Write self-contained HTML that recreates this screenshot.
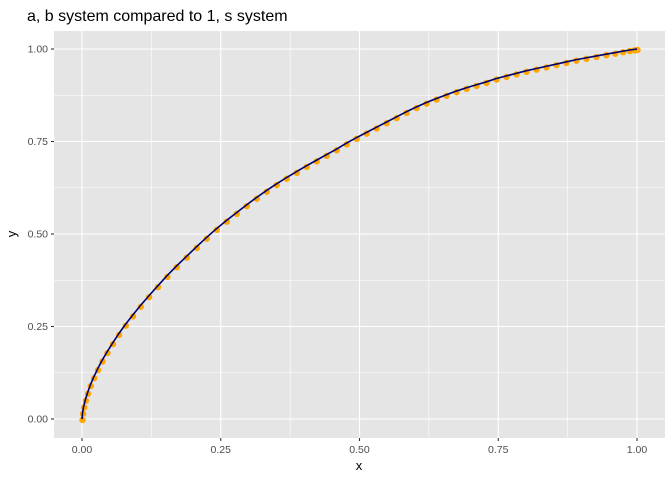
<!DOCTYPE html>
<html><head><meta charset="utf-8"><style>
html,body{margin:0;padding:0;background:#fff}
svg{display:block;font-family:"Liberation Sans",Arial,sans-serif}
</style></head><body>
<svg id="chart" width="672" height="480" viewBox="0 0 672 480">
<text x="27" y="21" font-size="16" fill="#000">a, b system compared to 1, s system</text>
<rect x="54" y="31" width="611" height="407" fill="#e5e5e5"/>
<g id="grid"></g><g id="axes"></g><g id="series"></g>
<text x="359" y="470" font-size="13" text-anchor="middle" fill="#000">x</text>
<text transform="translate(16,234) rotate(-90)" font-size="13" text-anchor="middle" fill="#000">y</text>
</svg>
<script>
const xTicks=[0,0.25,0.5,0.75,1];
const yTicks=[0,0.25,0.5,0.75,1];
const tickLabels=["0.00","0.25","0.50","0.75","1.00"];
const xVals=[0,0.001,0.003,0.006,0.01,0.015,0.021,0.028,0.036,0.045,0.055,0.066,0.078,0.091,0.105,0.12,0.136,0.153,0.17,0.188,0.206,0.224,0.242,0.26,0.278,0.296,0.314,0.332,0.35,0.368,0.386,0.404,0.422,0.44,0.458,0.476,0.494,0.512,0.53,0.548,0.566,0.584,0.602,0.62,0.638,0.656,0.674,0.692,0.71,0.728,0.746,0.764,0.782,0.8,0.818,0.836,0.854,0.872,0.89,0.908,0.926,0.944,0.96,0.974,0.986,0.995,1];
const yVals=[0,0.017,0.034,0.052,0.071,0.092,0.113,0.135,0.158,0.181,0.205,0.23,0.255,0.28,0.306,0.332,0.359,0.387,0.413,0.439,0.465,0.49,0.514,0.536,0.557,0.578,0.598,0.617,0.635,0.652,0.668,0.684,0.699,0.714,0.729,0.745,0.76,0.774,0.788,0.802,0.816,0.83,0.843,0.855,0.866,0.876,0.886,0.895,0.903,0.911,0.92,0.927,0.934,0.941,0.947,0.953,0.959,0.965,0.971,0.976,0.981,0.986,0.99,0.994,0.997,0.999,1];
const NS="http://www.w3.org/2000/svg";
const sx=v=>82+v*555, sy=v=>419-v*370;
function mk(tag,attrs,parent){const e=document.createElementNS(NS,tag);for(const k in attrs)e.setAttribute(k,attrs[k]);parent.appendChild(e);return e;}
const grid=document.getElementById('grid'),axes=document.getElementById('axes'),series=document.getElementById('series');
for(let i=0;i<xTicks.length-1;i++){
 const mx=(xTicks[i]+xTicks[i+1])/2,my=(yTicks[i]+yTicks[i+1])/2;
 const a=mk('line',{x1:sx(mx),x2:sx(mx),y1:31,y2:438,stroke:'#fff','stroke-width':0.55},grid);
 
 
 const b=mk('line',{x1:54,x2:665,y1:sy(my),y2:sy(my),stroke:'#fff','stroke-width':0.55},grid);
 
 
}
xTicks.forEach((v,i)=>{
 const g=mk('line',{x1:sx(v),x2:sx(v),y1:31,y2:438,stroke:'#fff','stroke-width':1.1},grid);
 
 
 const t=mk('line',{x1:sx(v),x2:sx(v),y1:438,y2:441,stroke:'#333','stroke-width':1.1},axes);
 
 
 const l=mk('text',{x:sx(v),y:453,'font-size':10.5,fill:'#4d4d4d','text-anchor':'middle'},axes);
 l.textContent=tickLabels[i];
 
 
});
yTicks.forEach((v,i)=>{
 const g=mk('line',{x1:54,x2:665,y1:sy(v),y2:sy(v),stroke:'#fff','stroke-width':1.1},grid);
 
 
 const t=mk('line',{x1:51,x2:54,y1:sy(v),y2:sy(v),stroke:'#333','stroke-width':1.1},axes);
 
 
 const l=mk('text',{x:48,y:sy(v)+3.5,'font-size':10.5,fill:'#4d4d4d','text-anchor':'end'},axes);
 l.textContent=tickLabels[i];
 
 
});
xVals.forEach((v,i)=>{
 const c=mk('circle',{cx:sx(v)+0.5,cy:sy(yVals[i])+1,r:3.2,fill:'#FFA500'},series);
 
 
});
const p=mk('polyline',{points:xVals.map((v,i)=>sx(v)+','+sy(yVals[i])).join(' '),fill:'none',stroke:'#00006e','stroke-width':1.6,'stroke-linejoin':'round'},series);


</script>
</body></html>
